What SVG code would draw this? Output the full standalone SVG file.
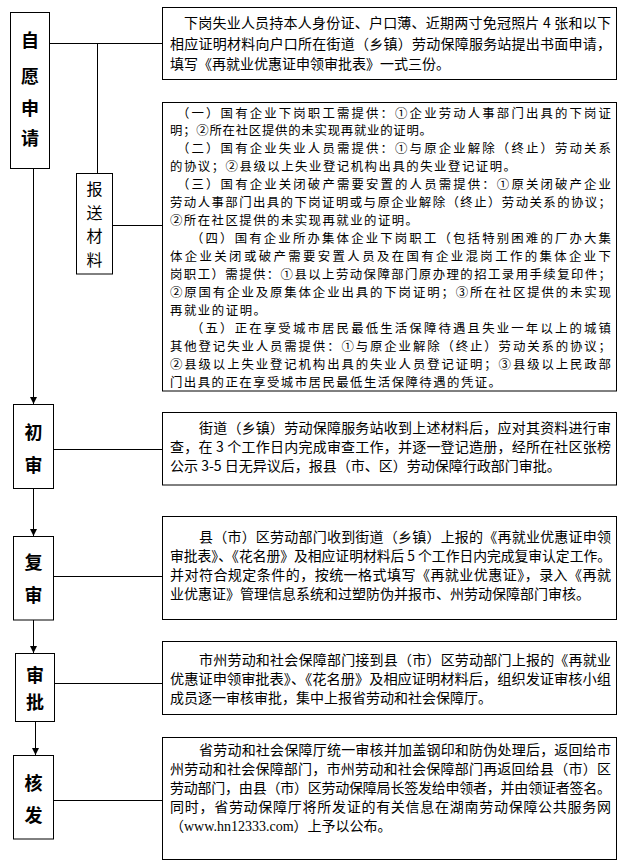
<svg xmlns="http://www.w3.org/2000/svg" width="628" height="865" viewBox="0 0 628 865">
<style>
.box{fill:#fff;stroke:#000;stroke-width:1}
.ln{fill:none;stroke:#000;stroke-width:1}
.t{font-family:"Noto Sans CJK SC","Noto Sans",sans-serif;font-size:14px;fill:#000}
.s{font-size:12.4px}
.lbl{font-family:"Noto Sans CJK SC","Noto Sans",sans-serif;font-size:18px;font-weight:bold;text-anchor:middle;fill:#000}
.lbl2{font-family:"Noto Sans CJK SC","Noto Sans",sans-serif;font-size:16px;text-anchor:middle;fill:#000}
.url{font-family:"Liberation Serif",serif}
</style>
<defs>
<marker id="arr" viewBox="0 0 8 8" refX="8" refY="4" markerWidth="7" markerHeight="7" markerUnits="userSpaceOnUse" orient="auto">
<path d="M0,0 L8,4 L0,8 z" fill="#000"/>
</marker>
</defs>
<rect width="628" height="865" fill="#fff"/>
<g id="connectors">
<line class="ln" x1="50" y1="43.5" x2="162" y2="43.5"/>
<line class="ln" x1="97.5" y1="43.5" x2="97.5" y2="173"/>
<line class="ln" x1="112" y1="225.5" x2="162" y2="225.5"/>
<line class="ln" x1="33.5" y1="168.5" x2="33.5" y2="404" marker-end="url(#arr)"/>
<line class="ln" x1="53" y1="449.5" x2="162" y2="449.5"/>
<line class="ln" x1="33.5" y1="488.5" x2="33.5" y2="536" marker-end="url(#arr)"/>
<line class="ln" x1="53" y1="576.5" x2="162" y2="576.5"/>
<line class="ln" x1="33.5" y1="620" x2="33.5" y2="653" marker-end="url(#arr)"/>
<line class="ln" x1="54" y1="683.5" x2="162" y2="683.5"/>
<line class="ln" x1="35.5" y1="721.5" x2="35.5" y2="755" marker-end="url(#arr)"/>
<line class="ln" x1="53" y1="800.5" x2="162" y2="800.5"/>
</g>
<g id="n-ziyuan">
<rect class="box" x="10.5" y="12.5" width="39" height="156"/>
<text class="lbl" x="30" y="47">自</text>
<text class="lbl" x="30" y="83">愿</text>
<text class="lbl" x="30" y="115">申</text>
<text class="lbl" x="30" y="145">请</text>
</g>
<g id="n-baosong">
<rect class="box" x="76.5" y="173.5" width="36" height="100.5"/>
<text class="lbl2" x="94.5" y="195">报</text>
<text class="lbl2" x="94.5" y="218.5">送</text>
<text class="lbl2" x="94.5" y="242">材</text>
<text class="lbl2" x="94.5" y="265.5">料</text>
</g>
<g id="n-chushen">
<rect class="box" x="13.5" y="404.5" width="40" height="84"/>
<text class="lbl" x="33.5" y="439">初</text>
<text class="lbl" x="33.5" y="472">审</text>
</g>
<g id="n-fushen">
<rect class="box" x="13.5" y="536.5" width="40" height="83.5"/>
<text class="lbl" x="33.5" y="569">复</text>
<text class="lbl" x="33.5" y="602">审</text>
</g>
<g id="n-shenpi">
<rect class="box" x="15.5" y="653.5" width="39" height="68"/>
<text class="lbl" x="35" y="682">审</text>
<text class="lbl" x="35" y="709">批</text>
</g>
<g id="n-hefa">
<rect class="box" x="13.5" y="755.5" width="40" height="83.5"/>
<text class="lbl" x="33.5" y="790">核</text>
<text class="lbl" x="33.5" y="822">发</text>
</g>
<g id="t-shenqing">
<rect class="box" x="162.5" y="7.5" width="454" height="72"/>
<text class="t" x="184" y="28" textLength="427" lengthAdjust="spacing">下岗失业人员持本人身份证、户口薄、近期两寸免冠照片 4 张和以下</text>
<text class="t" x="170" y="49" textLength="441" lengthAdjust="spacing">相应证明材料向户口所在街道（乡镇）劳动保障服务站提出书面申请，</text>
<text class="t" x="170" y="69">填写《再就业优惠证申领审批表》一式三份。</text>
</g>
<g id="t-cailiao">
<rect class="box" x="162.5" y="102.5" width="454" height="288.5"/>
<text class="t s" x="177" y="117.5" textLength="434" lengthAdjust="spacing">（一）国有企业下岗职工需提供：①企业劳动人事部门出具的下岗证</text>
<text class="t s" x="170" y="135.45" textLength="262" lengthAdjust="spacing">明；②所在社区提供的未实现再就业的证明。</text>
<text class="t s" x="177" y="153.4" textLength="434" lengthAdjust="spacing">（二）国有企业失业人员需提供：①与原企业解除（终止）劳动关系</text>
<text class="t s" x="170" y="171.35" textLength="346" lengthAdjust="spacing">的协议；②县级以上失业登记机构出具的失业登记证明。</text>
<text class="t s" x="177" y="189.3" textLength="434" lengthAdjust="spacing">（三）国有企业关闭破产需要安置的人员需提供：①原关闭破产企业</text>
<text class="t s" x="170" y="207.25" textLength="441" lengthAdjust="spacing">劳动人事部门出具的下岗证明或与原企业解除（终止）劳动关系的协议；</text>
<text class="t s" x="170" y="225.2" textLength="248" lengthAdjust="spacing">②所在社区提供的未实现再就业的证明。</text>
<text class="t s" x="191" y="243.15" textLength="420" lengthAdjust="spacing">（四）国有企业所办集体企业下岗职工（包括特别困难的厂办大集</text>
<text class="t s" x="170" y="261.1" textLength="441" lengthAdjust="spacing">体企业关闭或破产需要安置人员及在国有企业混岗工作的集体企业下</text>
<text class="t s" x="170" y="279.05" textLength="441" lengthAdjust="spacing">岗职工）需提供：①县以上劳动保障部门原办理的招工录用手续复印件；</text>
<text class="t s" x="170" y="297" textLength="441" lengthAdjust="spacing">②原国有企业及原集体企业出具的下岗证明；③所在社区提供的未实现</text>
<text class="t s" x="170" y="314.95" textLength="96" lengthAdjust="spacing">再就业的证明。</text>
<text class="t s" x="191" y="332.9" textLength="420" lengthAdjust="spacing">（五）正在享受城市居民最低生活保障待遇且失业一年以上的城镇</text>
<text class="t s" x="170" y="350.85" textLength="441" lengthAdjust="spacing">其他登记失业人员需提供：①与原企业解除（终止）劳动关系的协议；</text>
<text class="t s" x="170" y="368.8" textLength="441" lengthAdjust="spacing">②县级以上失业登记机构出具的失业人员登记证明；③县级以上民政部</text>
<text class="t s" x="170" y="386.75" textLength="331" lengthAdjust="spacing">门出具的正在享受城市居民最低生活保障待遇的凭证。</text>
</g>
<g id="t-chushen">
<rect class="box" x="162.5" y="412.5" width="454" height="72.5"/>
<text class="t" x="199" y="433" textLength="412" lengthAdjust="spacing">街道（乡镇）劳动保障服务站收到上述材料后，应对其资料进行审</text>
<text class="t" x="170" y="452" textLength="441" lengthAdjust="spacing">查，在 3 个工作日内完成审查工作，并逐一登记造册，经所在社区张榜</text>
<text class="t" x="170" y="471">公示 3-5 日无异议后，报县（市、区）劳动保障行政部门审批。</text>
</g>
<g id="t-fushen">
<rect class="box" x="162.5" y="516.5" width="454" height="103"/>
<text class="t" x="199" y="542" textLength="412" lengthAdjust="spacing">县（市）区劳动部门收到街道（乡镇）上报的《再就业优惠证申领</text>
<text class="t" x="170" y="561" textLength="441" lengthAdjust="spacingAndGlyphs">审批表》、《花名册》及相应证明材料后 5 个工作日内完成复审认定工作。</text>
<text class="t" x="170" y="580" textLength="441" lengthAdjust="spacing">并对符合规定条件的，按统一格式填写《再就业优惠证》，录入《再就</text>
<text class="t" x="170" y="599">业优惠证》管理信息系统和过塑防伪并报市、州劳动保障部门审核。</text>
</g>
<g id="t-shenpi">
<rect class="box" x="162.5" y="641.5" width="454" height="73"/>
<text class="t" x="199" y="665" textLength="412" lengthAdjust="spacing">市州劳动和社会保障部门接到县（市）区劳动部门上报的《再就业</text>
<text class="t" x="170" y="684" textLength="441" lengthAdjust="spacingAndGlyphs">优惠证申领审批表》、《花名册》及相应证明材料后，组织发证审核小组</text>
<text class="t" x="170" y="703">成员逐一审核审批，集中上报省劳动和社会保障厅。</text>
</g>
<g id="t-hefa">
<rect class="box" x="162.5" y="737.5" width="454" height="122"/>
<text class="t" x="199" y="755" textLength="412" lengthAdjust="spacing">省劳动和社会保障厅统一审核并加盖钢印和防伪处理后，返回给市</text>
<text class="t" x="170" y="774" textLength="441" lengthAdjust="spacing">州劳动和社会保障部门，市州劳动和社会保障部门再返回给县（市）区</text>
<text class="t" x="170" y="793" textLength="441" lengthAdjust="spacing">劳动部门，由县（市）区劳动保障局长签发给申领者，并由领证者签名。</text>
<text class="t" x="170" y="812" textLength="441" lengthAdjust="spacing">同时，省劳动保障厅将所发证的有关信息在湖南劳动保障公共服务网</text>
<text class="t" x="170" y="831">（<tspan class="url">www.hn12333.com</tspan>）上予以公布。</text>
</g>
</svg>
